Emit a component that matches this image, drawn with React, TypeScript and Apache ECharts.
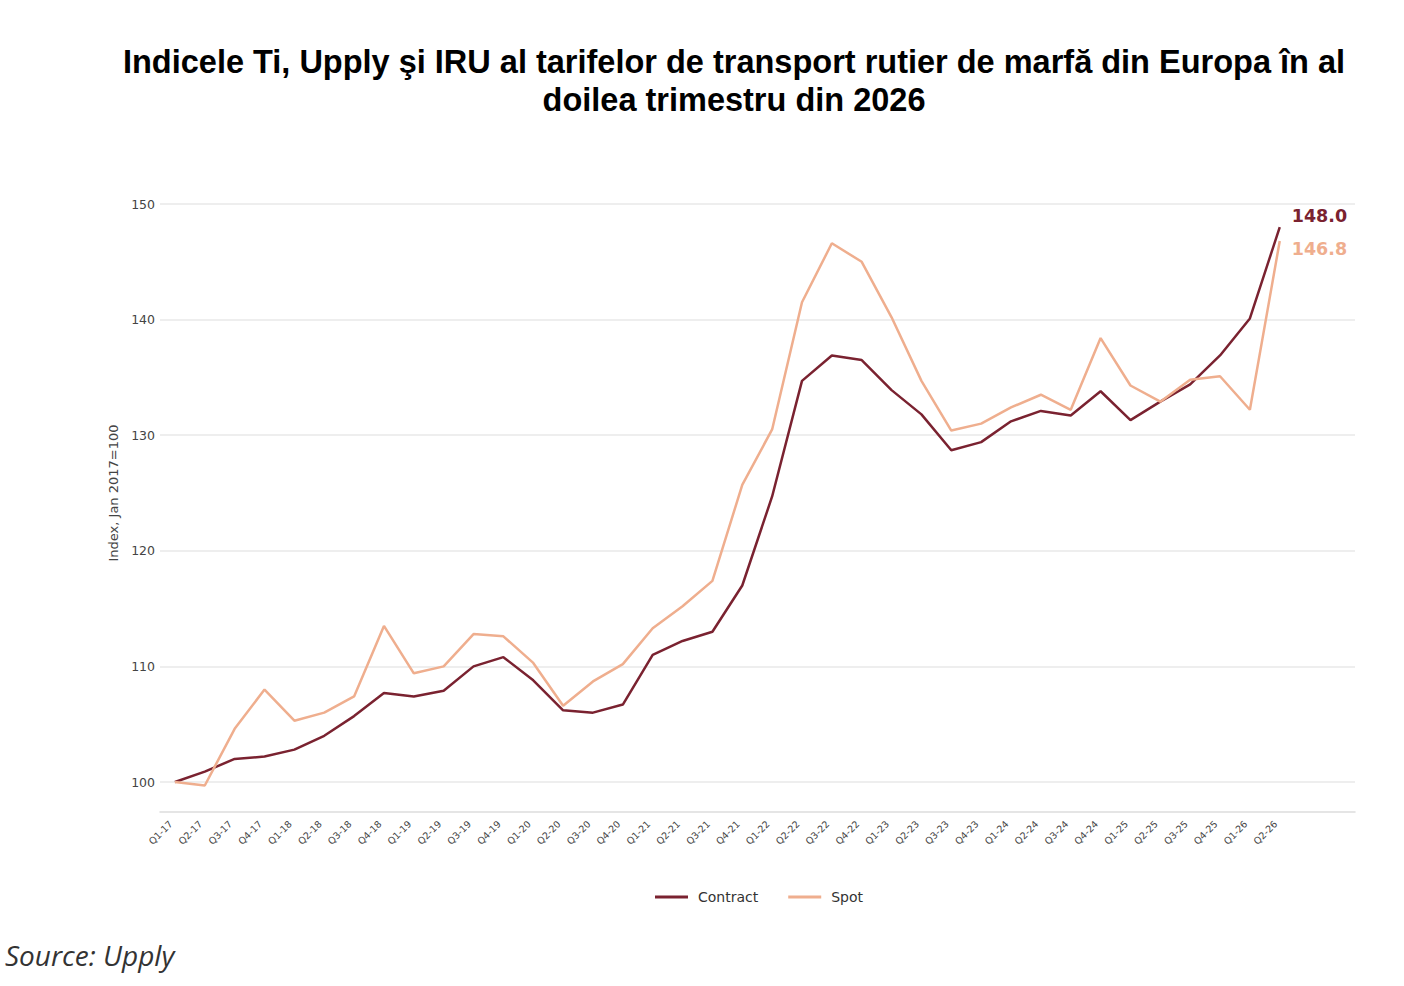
import React, { useEffect, useRef } from "react";
import * as echarts from "echarts";

const categories = [
  "Q1-17","Q2-17","Q3-17","Q4-17","Q1-18","Q2-18","Q3-18","Q4-18","Q1-19","Q2-19",
  "Q3-19","Q4-19","Q1-20","Q2-20","Q3-20","Q4-20","Q1-21","Q2-21","Q3-21","Q4-21",
  "Q1-22","Q2-22","Q3-22","Q4-22","Q1-23","Q2-23","Q3-23","Q4-23","Q1-24","Q2-24",
  "Q3-24","Q4-24","Q1-25","Q2-25","Q3-25","Q4-25","Q1-26","Q2-26",
];

const contract = [
  100.0, 100.9, 102.0, 102.2, 102.8, 104.0, 105.7, 107.7, 107.4, 107.9,
  110.0, 110.8, 108.8, 106.2, 106.0, 106.7, 111.0, 112.2, 113.0, 117.0,
  124.7, 134.7, 136.9, 136.5, 133.9, 131.8, 128.7, 129.4, 131.2, 132.1,
  131.7, 133.8, 131.3, 132.9, 134.4, 136.9, 140.1, 148.0,
];

const spot = [
  100.0, 99.7, 104.6, 108.0, 105.3, 106.0, 107.4, 113.5, 109.4, 110.0,
  112.8, 112.6, 110.3, 106.6, 108.7, 110.2, 113.3, 115.2, 117.4, 125.7,
  130.5, 141.5, 146.6, 145.0, 140.2, 134.7, 130.4, 131.0, 132.4, 133.5,
  132.2, 138.4, 134.3, 132.9, 134.8, 135.1, 132.2, 146.8,
];

const yTicks = [100, 110, 120, 130, 140, 150];

const CONTRACT_COLOR = "#7a2230";
const SPOT_COLOR = "#efae8e";

export default function App() {
  const ref = useRef<HTMLDivElement>(null);

  useEffect(() => {
    if (!ref.current) return;
    const chart = echarts.init(ref.current, undefined, { renderer: "svg" });
    const idx = categories.map((_, i) => i);
    const toPairs = (arr: number[]) => arr.map((v, i) => [i, v]);

    chart.setOption({
      animation: false,
      backgroundColor: "#ffffff",
      title: {
        text: "Indicele Ti, Upply şi IRU al tarifelor de transport rutier de marfă din Europa în al\ndoilea trimestru din 2026",
        left: 729,
        textAlign: "center",
        top: 38,
        textStyle: {
          fontFamily: "Liberation Sans",
          fontWeight: "bold",
          fontSize: 32.5,
          lineHeight: 38,
          color: "#000000",
        },
      },
      legend: {
        left: 650,
        top: 885,
        itemWidth: 33,
        itemHeight: 3,
        itemGap: 30,
        icon: "rect",
        textStyle: {
          fontFamily: "DejaVu Sans",
          fontSize: 14,
          color: "#333333",
          padding: [0, 0, 0, 5],
        },
        data: ["Contract", "Spot"],
      },
      grid: { left: 160, right: 49, top: 204, bottom: 204, containLabel: false },
      xAxis: {
        type: "value",
        min: -0.5,
        max: 39.52,
        offset: 30,
        axisLine: { show: true, lineStyle: { color: "#dddddd", width: 1.5 } },
        axisTick: { show: false },
        splitLine: { show: false },
        axisLabel: {
          customValues: idx,
          rotate: 45,
          fontSize: 9.5,
          color: "#444444",
          fontFamily: "DejaVu Sans",
          margin: 6,
          padding: [0, 6, 0, 0],
          formatter: (v: number) => categories[Math.round(v)] ?? "",
        },
      },
      yAxis: {
        type: "value",
        min: 100,
        max: 150,
        interval: 10,
        name: "Index, Jan 2017=100",
        nameLocation: "middle",
        nameGap: 34,
        nameTextStyle: { fontFamily: "DejaVu Sans", fontSize: 13, color: "#444444" },
        axisLine: { show: false },
        axisTick: { show: false },
        splitLine: { lineStyle: { color: "#e8e8e8", width: 1.5 } },
        axisLabel: {
          fontSize: 12.5,
          color: "#444444",
          fontFamily: "DejaVu Sans",
          margin: 5,
          customValues: yTicks,
        },
      },
      series: [
        {
          name: "Contract",
          type: "line",
          data: toPairs(contract),
          showSymbol: false,
          symbol: "none",
          clip: false,
          color: CONTRACT_COLOR,
          lineStyle: { color: CONTRACT_COLOR, width: 2.5 },
          endLabel: {
            show: true,
            formatter: (p: any) => Number(p.value[1]).toFixed(1),
            color: CONTRACT_COLOR,
            fontWeight: "bold",
            fontSize: 17.5,
            fontFamily: "DejaVu Sans",
            distance: 12,
            offset: [0, -11],
          },
        },
        {
          name: "Spot",
          type: "line",
          data: toPairs(spot),
          showSymbol: false,
          symbol: "none",
          clip: false,
          color: SPOT_COLOR,
          lineStyle: { color: SPOT_COLOR, width: 2.5 },
          endLabel: {
            show: true,
            formatter: (p: any) => Number(p.value[1]).toFixed(1),
            color: SPOT_COLOR,
            fontWeight: "bold",
            fontSize: 17.5,
            fontFamily: "DejaVu Sans",
            distance: 12,
            offset: [0, 8],
          },
        },
      ],
      graphic: [
        {
          type: "text",
          left: 5,
          top: 941,
          style: {
            text: "Source: Upply",
            fontFamily: "Open Sans",
            fontStyle: "italic",
            fontSize: 28,
            fill: "#333333",
          },
        },
      ],
    });

    return () => chart.dispose();
  }, []);

  return (
    <div
      ref={ref}
      style={{ position: "fixed", left: 0, top: 0, width: 1404, height: 986 }}
    />
  );
}
